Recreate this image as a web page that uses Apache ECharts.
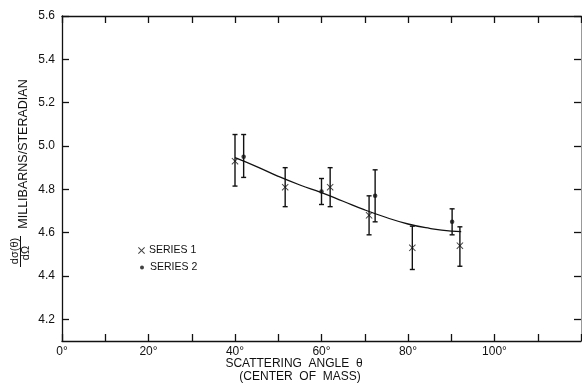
<!DOCTYPE html>
<html>
<head>
<meta charset="utf-8">
<script src="https://cdn.jsdelivr.net/npm/echarts@6/dist/echarts.min.js"></script>
<style>
html,body{margin:0;padding:0;background:#fff;}
#chart{width:582px;height:385px;}
</style>
</head>
<body>
<div id="chart"></div>
<script>
// ---- data ----
const xTickValues = [0, 20, 40, 60, 80, 100];
const yTickValues = [4.2, 4.4, 4.6, 4.8, 5.0, 5.2, 5.4, 5.6];

// Series 1 (x marks): angle, value, lower, upper
const series1Angle = [40.0, 51.6, 62.0, 71.0, 81.0, 92.0];
const series1Value = [4.93, 4.81, 4.81, 4.68, 4.53, 4.54];
const series1Low   = [4.815, 4.72, 4.72, 4.59, 4.43, 4.445];
const series1High  = [5.053, 4.90, 4.90, 4.77, 4.63, 4.627];

// Series 2 (dots)
const series2Angle = [42.0, 60.0, 72.4, 90.2];
const series2Value = [4.95, 4.79, 4.77, 4.65];
const series2Low   = [4.855, 4.73, 4.65, 4.59];
const series2High  = [5.053, 4.85, 4.89, 4.71];

// Fitted curve
const curveAngle = [40, 45, 50, 55, 60, 65, 70, 75, 80, 85, 90, 92.3];
const curveValue = [4.946, 4.905, 4.86, 4.82, 4.785, 4.745, 4.705, 4.67, 4.64, 4.62, 4.607, 4.605];

// ---- build ----
const INK = '#111';
const FONT = '"Liberation Sans", Arial, Helvetica, sans-serif';
const crossPath = 'path://M0,1 L1,0 L5,4 L9,0 L10,1 L6,5 L10,9 L9,10 L5,6 L1,10 L0,9 L4,5 Z';

function zip4(a, v, l, h) { return a.map((x, i) => [x, v[i], l[i], h[i]]); }
const s1 = zip4(series1Angle, series1Value, series1Low, series1High);
const s2 = zip4(series2Angle, series2Value, series2Low, series2High);
const curve = curveAngle.map((x, i) => [x, curveValue[i]]);

function errRender(params, api) {
  const x = api.value(0);
  const top = api.coord([x, api.value(3)]);
  const bot = api.coord([x, api.value(2)]);
  const st = { stroke: INK, lineWidth: 1.4 };
  const hw = 2.5;
  return {
    type: 'group',
    children: [
      { type: 'line', shape: { x1: top[0], y1: top[1], x2: bot[0], y2: bot[1] }, style: st },
      { type: 'line', shape: { x1: top[0] - hw, y1: top[1], x2: top[0] + hw, y2: top[1] }, style: st },
      { type: 'line', shape: { x1: bot[0] - hw, y1: bot[1], x2: bot[0] + hw, y2: bot[1] }, style: st }
    ]
  };
}

const axisLineStyle = { color: INK, width: 1.3 };
const chart = echarts.init(document.getElementById('chart'), null, { renderer: 'canvas' });
chart.setOption({
  animation: false,
  backgroundColor: '#fff',
  grid: { left: 62, right: 1, top: 16, bottom: 44 },
  xAxis: [{
    type: 'value', min: 0, max: 120, interval: 10, position: 'bottom',
    axisLine: { show: true, onZero: false, lineStyle: axisLineStyle },
    axisTick: { show: true, inside: true, length: 7, lineStyle: axisLineStyle },
    axisLabel: { customValues: xTickValues, formatter: v => v + '°', color: INK, fontFamily: FONT, fontSize: 12, margin: 5 },
    splitLine: { show: false }
  }, {
    type: 'value', min: 0, max: 120, interval: 10, position: 'top',
    axisLine: { show: true, onZero: false, lineStyle: axisLineStyle },
    axisTick: { show: true, inside: true, length: 7, lineStyle: axisLineStyle },
    axisLabel: { show: false },
    splitLine: { show: false }
  }],
  yAxis: [{
    type: 'value', min: 4.1, max: 5.6, position: 'left',
    axisLine: { show: true, onZero: false, lineStyle: axisLineStyle },
    axisTick: { show: true, inside: true, length: 7, customValues: yTickValues, lineStyle: axisLineStyle },
    axisLabel: { customValues: yTickValues, formatter: v => v.toFixed(1), color: INK, fontFamily: FONT, fontSize: 12, margin: 7 },
    splitLine: { show: false }
  }, {
    type: 'value', min: 4.1, max: 5.6, position: 'right',
    axisLine: { show: true, onZero: false, lineStyle: { color: '#999', width: 1 } },
    axisTick: { show: true, inside: true, length: 7, customValues: yTickValues, lineStyle: axisLineStyle },
    axisLabel: { show: false },
    splitLine: { show: false }
  }],
  legend: [{
    data: ['SERIES 1'], orient: 'vertical', left: 133, top: 240,
    itemWidth: 7, itemHeight: 7, itemGap: 4,
    textStyle: { color: INK, fontFamily: FONT, fontSize: 10.5, padding: [0, 0, 0, -1] }
  }, {
    data: [{ name: 'SERIES 2', icon: 'circle' }], orient: 'vertical', left: 135, top: 257,
    itemWidth: 4, itemHeight: 4, itemGap: 4,
    textStyle: { color: INK, fontFamily: FONT, fontSize: 10.5, padding: [0, 0, 0, 1] }
  }],
  graphic: [
    { type: 'text', x: 294, y: 364, style: { text: 'SCATTERING  ANGLE  θ', fill: INK, font: '12px ' + FONT, align: 'center', verticalAlign: 'middle' } },
    { type: 'text', x: 300, y: 377, style: { text: '(CENTER  OF  MASS)', fill: INK, font: '12px ' + FONT, align: 'center', verticalAlign: 'middle' } },
    { type: 'text', x: 24, y: 154, rotation: Math.PI / 2, style: { text: 'MILLIBARNS/STERADIAN', fill: INK, font: '12.5px ' + FONT, align: 'center', verticalAlign: 'middle' } },
    { type: 'text', x: 15, y: 251, rotation: Math.PI / 2, style: { text: 'dσ(θ)', fill: INK, font: '11px ' + FONT, align: 'center', verticalAlign: 'middle' } },
    { type: 'line', shape: { x1: 20.5, y1: 236, x2: 20.5, y2: 267 }, style: { stroke: INK, lineWidth: 1 } },
    { type: 'text', x: 26, y: 253, rotation: Math.PI / 2, style: { text: 'dΩ', fill: INK, font: '11px ' + FONT, align: 'center', verticalAlign: 'middle' } }
  ],
  series: [
    { name: 'curve', type: 'line', data: curve, smooth: true, showSymbol: false, symbol: 'none',
      lineStyle: { color: INK, width: 1.3 }, z: 2 },
    { name: 'err1', type: 'custom', data: s1, renderItem: errRender, encode: { x: 0, y: [1, 2, 3] }, z: 3 },
    { name: 'err2', type: 'custom', data: s2, renderItem: errRender, encode: { x: 0, y: [1, 2, 3] }, z: 3 },
    { name: 'SERIES 1', type: 'scatter', data: s1.map(d => [d[0], d[1]]), symbol: crossPath, symbolSize: 7,
      itemStyle: { color: INK }, z: 4 },
    { name: 'SERIES 2', type: 'scatter', data: s2.map(d => [d[0], d[1]]), symbol: 'circle', symbolSize: 4.5,
      itemStyle: { color: INK }, z: 4 }
  ]
});
</script>
</body>
</html>
